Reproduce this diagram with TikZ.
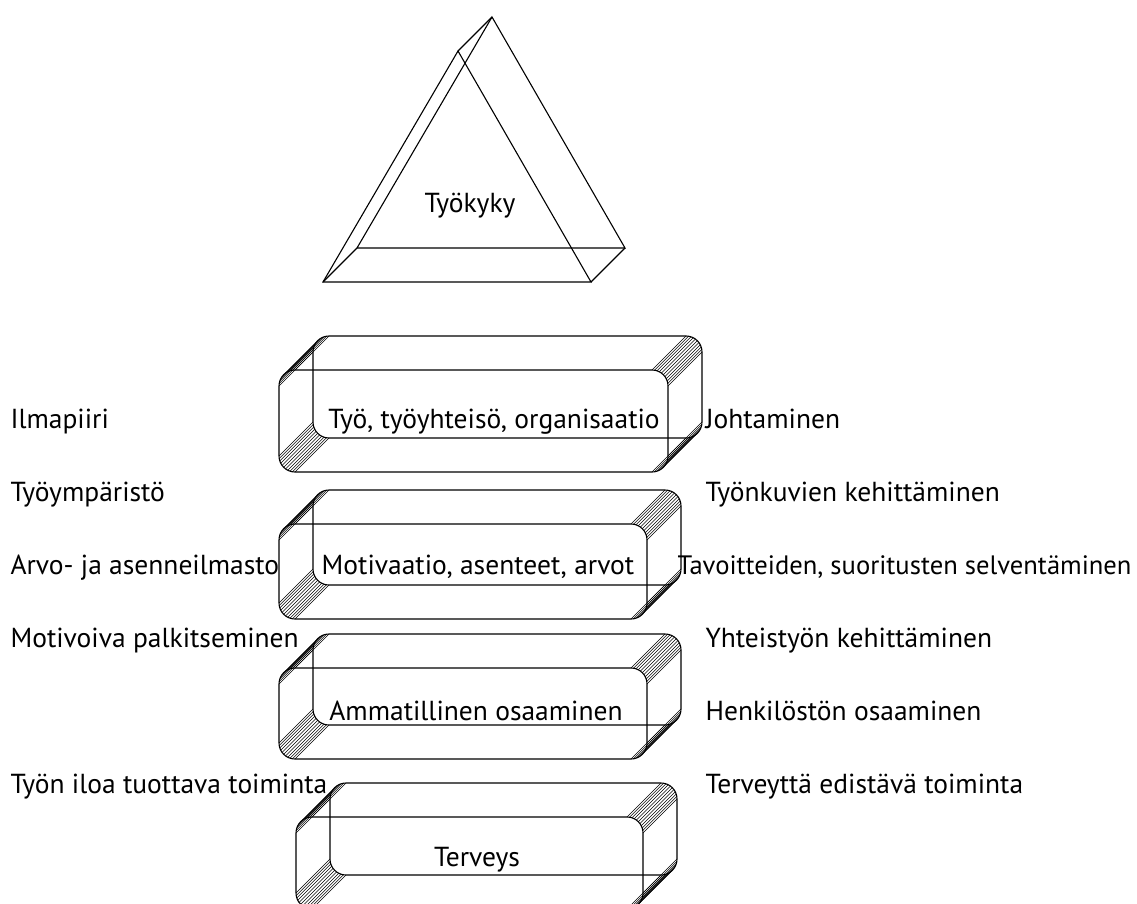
\documentclass[tikz,border=0pt]{standalone}
\usepackage{fontspec}
\setmainfont{PT Sans}
\newlength{\du}
\setlength{\du}{1pt}
\tikzset{
  teksti/.style={anchor=base west,inner sep=0pt,font=\fontsize{27.5}{32}\selectfont},
  keskiteksti/.style={teksti,anchor=base},
  viiva/.style={line width=0.5\du}
}

\begin{document}
\begin{tikzpicture}[line width=1.1\du]
\pgftransformxscale{1.000000}
\pgftransformyscale{-1.000000}
\useasboundingbox (0\du,0\du) rectangle (1137\du,904\du);
% triangle
\draw (323\du,282\du)--(591\du,282\du)--(458\du,51\du)--cycle;
\draw (357\du,248\du)--(625\du,248\du)--(492\du,17\du)--cycle;
\draw (323\du,282\du)--(357\du,248\du);
\draw (591\du,282\du)--(625\du,248\du);
\draw (458\du,51\du)--(492\du,17\du);
\node[keskiteksti] (tyokyky) at (470\du,212\du){Työkyky};
% boxes
\foreach \xa/\ya/\xb/\yb in {279/370/668/472, 279/524/647/619, 279/668/647/759, 296/817/643/909}
{
  \draw[rounded corners=16\du] (\xa\du,\ya\du) rectangle (\xb\du,\yb\du);
  \draw[rounded corners=16\du] (\xa\du+34\du,\ya\du-34\du) rectangle (\xb\du+34\du,\yb\du-34\du);
  \foreach \cx/\cy/\kulma in {\xb\du-16\du/\ya\du+16\du/270, \xa\du+16\du/\ya\du+16\du/180,
                              \xa\du+16\du/\yb\du-16\du/90, \xb\du-16\du/\yb\du-16\du/0}
    \foreach \t in {0,9,...,90}
      \draw[viiva] (\cx,\cy) ++(\kulma+\t:16\du) -- ++(34\du,-34\du);
}
% box texts
\node[keskiteksti] (tyoyhteiso) at (494\du,428\du){Työ, työyhteisö, organisaatio};
\node[keskiteksti] (motivaatio) at (478\du,574\du){Motivaatio, asenteet, arvot};
\node[keskiteksti] (ammatillinen) at (476\du,720\du){Ammatillinen osaaminen};
\node[keskiteksti] (terveys) at (477\du,866\du){Terveys};
% left
\node[teksti] (ilmapiiri) at (10\du,428\du){Ilmapiiri};
\node[teksti] (tyoymparisto) at (10\du,501\du){Työympäristö};
\node[teksti] (arvoilmasto) at (10\du,574\du){Arvo- ja asenneilmasto};
\node[teksti] (palkitseminen) at (10\du,647\du){Motivoiva palkitseminen};
\node[teksti] (tyonilo) at (10\du,793\du){Työn iloa tuottava toiminta};
% right
\node[teksti] (johtaminen) at (705\du,428\du){Johtaminen};
\node[teksti] (tyonkuvat) at (705\du,501\du){Työnkuvien kehittäminen};
\node[teksti,font=\fontsize{26.6}{32}\selectfont] (tavoitteet) at (677\du,574\du){Tavoitteiden, suoritusten selventäminen};
\node[teksti] (yhteistyo) at (705\du,647\du){Yhteistyön kehittäminen};
\node[teksti] (henkilosto) at (705\du,720\du){Henkilöstön osaaminen};
\node[teksti] (terveyttaedistava) at (705\du,793\du){Terveyttä edistävä toiminta};
\end{tikzpicture}
\end{document}
